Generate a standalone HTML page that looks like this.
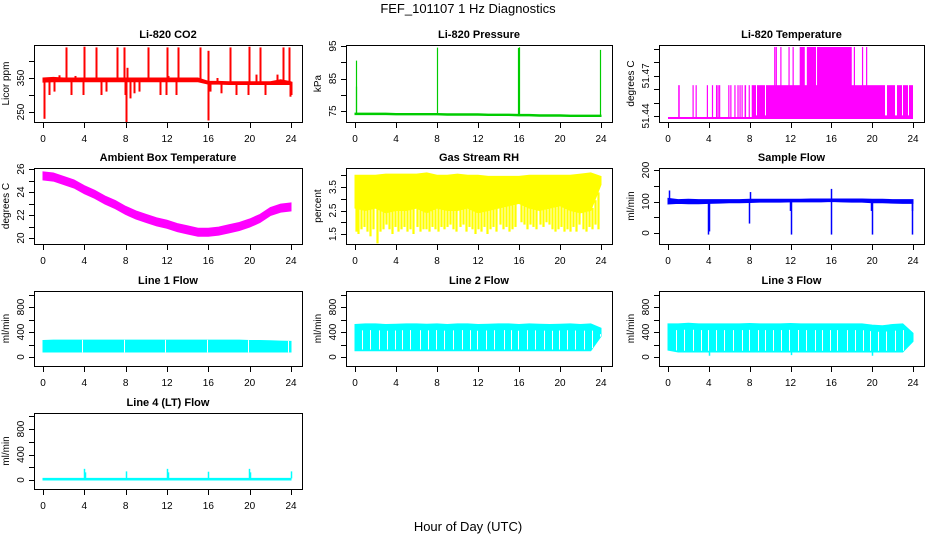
<!DOCTYPE html>
<html><head><meta charset="utf-8"><style>
html,body{margin:0;padding:0;background:#fff}
svg{display:block;font-family:"Liberation Sans",Arial,sans-serif}
</style></head><body>
<svg id="c" width="936" height="540" viewBox="0 0 936 540" xmlns="http://www.w3.org/2000/svg">
<text x="468" y="13" text-anchor="middle" font-size="13">FEF_101107  1 Hz Diagnostics</text>
<text x="468" y="531" text-anchor="middle" font-size="13">Hour of Day (UTC)</text>
</svg>
<script>
// ---------- data ----------
const hours=[0,1,2,3,4,5,6,7,8,9,10,11,12,13,14,15,16,17,18,19,20,21,22,23,24];
const xTicks=[0,4,8,12,16,20,24];
// CO2
const co2Low =[338,339,339,339,339,339,339,339,339,339,339,339,339,339,339,339,332,332,331,331,331,331,331,331,331];
const co2High=[350,352,350,350,350,350,350,350,350,350,350,350,350,350,350,350,340,340,339,339,339,339,339,345,339];
const co2UpT=[2.2,4.0,5.1,7.2,7.8,10.2,12.0,13.1,15.2,16.0,18.1,19.9,21.0,23.2,23.8,1.5,3.1,8.1,12.1,16.8,20.6,22.6];
const co2UpV=[440,442,440,440,440,440,440,440,440,430,440,442,440,440,440,358,356,380,356,350,360,360];
const co2DnT=[0.05,0.1,0.6,1.1,2.7,3.9,5.6,6.1,7.9,8.0,8.4,8.8,9.3,11.3,11.9,12.9,16.0,16.2,17.2,18.7,19.8,21.5,23.9,24.0];
const co2DnV=[230,270,300,310,300,300,300,310,300,220,290,305,310,300,300,300,225,310,305,300,300,300,295,300];
const co2Ticks=[250,300,350,400], co2Labels=[250,350];
// Pressure
const presBase=[74.2,74.2,74.2,74.2,74.1,74.1,74.1,74.1,74.1,74.0,74.0,74.0,74.0,73.9,73.9,73.9,73.8,73.8,73.7,73.7,73.7,73.6,73.6,73.6,73.6];
const presSpikeT=[0.05,0.1,8.0,15.95,16.0,23.9];
const presSpikeV=[90.5,82.5,94.5,94.4,94.6,93.8];
const presTicks=[75,80,85,90,95], presLabels=[75,85,95];
// Li-820 temperature
const ltLow=51.4385;
const ltSegStart=[1.0,2.4,2.7,3.8,4.3,4.7,4.85,5.0,5.9,6.1,6.5,6.8,7.0,7.2,7.5,7.9,8.2,10.4,10.55,11.0,11.8,12.2,12.9,13.6,14.6,18.2,19.0,19.4];
const ltSegEnd  =[1.15,2.45,2.75,3.85,4.35,4.75,4.9,5.05,6.0,6.15,6.55,6.85,7.05,7.3,7.65,8.0,24.0,10.48,10.6,11.05,11.9,12.3,13.4,14.5,18.0,18.25,19.05,19.45];
const ltSegLevel=[51.463,51.463,51.463,51.463,51.463,51.463,51.463,51.463,51.463,51.463,51.463,51.463,51.463,51.463,51.463,51.463,51.463,51.4915,51.4915,51.4915,51.4915,51.4915,51.4915,51.4915,51.4915,51.4915,51.4915,51.4915];
const ltGapT=[8.6,9.5,21.3,21.4,22.2,22.3,22.9,23.5];
const ltTicks=[51.44,51.45,51.46,51.47,51.48,51.49], ltLabels=[51.44,51.47];
// Ambient
const ambMid=[25.4,25.3,25.0,24.7,24.2,23.8,23.3,22.9,22.4,22.0,21.7,21.4,21.2,20.9,20.7,20.5,20.5,20.6,20.8,21.0,21.3,21.7,22.3,22.6,22.7];
const ambHalf=0.35;
const ambTicks=[20,21,22,23,24,25,26], ambLabels=[20,22,24,26];
// RH
const rhHigh=[4.0,4.0,4.0,4.05,4.05,4.05,4.05,4.1,4.0,4.0,4.05,4.0,4.0,3.95,3.95,3.95,3.95,4.0,4.0,4.0,4.0,4.0,4.05,4.1,3.95];
const rhMid =[2.6,2.5,2.6,2.4,2.5,2.5,2.6,2.4,2.6,2.5,2.5,2.6,2.4,2.5,2.6,2.7,2.8,2.6,2.5,2.6,2.7,2.5,2.4,2.5,3.6];
const rhDipT=[0.1,0.3,0.6,0.9,1.2,1.5,1.8,2.1,2.4,2.7,3.0,3.3,3.6,3.9,4.2,4.5,4.8,5.1,5.4,5.7,6.0,6.3,6.6,6.9,7.2,7.5,7.8,8.1,8.4,8.7,9.0,9.3,9.6,9.9,10.2,10.5,10.8,11.1,11.4,11.7,12.0,12.3,12.6,12.9,13.2,13.5,13.8,14.1,14.4,14.7,15.0,15.3,15.6,16.2,16.5,16.8,17.1,17.4,17.7,18.0,18.3,18.6,18.9,19.2,19.5,19.8,20.1,20.4,20.7,21.0,21.3,21.6,21.9,22.2,22.5,22.8,23.1,23.4,23.7];
const rhDipV=[1.6,1.5,1.7,1.8,1.6,1.4,1.7,1.1,1.6,1.7,1.9,1.7,1.5,1.8,1.6,1.7,1.8,1.6,1.7,1.5,1.8,1.6,1.7,1.7,1.6,1.8,1.7,1.6,1.8,1.7,1.8,1.9,1.7,1.6,1.8,1.9,1.6,1.8,1.7,1.5,1.7,1.6,1.8,1.5,1.7,1.8,1.6,1.9,1.7,1.8,1.6,1.7,1.8,2.0,1.9,1.7,1.9,1.8,1.7,1.9,1.8,2.0,1.9,1.7,1.6,1.7,1.8,1.6,1.7,1.6,1.8,1.6,1.9,1.7,1.6,1.8,1.7,1.9,1.7];
const rhTicks=[1.5,2,2.5,3,3.5,4], rhLabels=[1.5,2.5,3.5];
// Sample flow
const sfLow =[92,94,93,93,94,95,96,96,97,98,98,98,99,99,99,99,100,99,98,98,96,96,95,94,94];
const sfHigh=[110,106,107,106,106,106,106,106,107,107,107,107,107,107,108,108,108,108,108,108,107,107,106,106,106];
const sfSpikeT=[0.05,3.95,4.0,7.95,8.0,11.95,12.0,15.95,16.0,19.9,19.95,23.9,23.95];
const sfSpikeV=[135,-5,5,30,130,70,-5,140,-5,70,-5,70,-5];
const sfTicks=[0,50,100,150,200], sfLabels=[0,100,200];
// Line flows
const flowTicks=[0,200,400,600,800,1000], flowLabels=[0,400,800];
const l1Low =[80,80,80,80,80,80,80,80,80,80,80,80,80,80,80,80,80,80,80,80,80,80,80,80,80];
const l1High=[265,270,270,270,270,270,270,270,270,270,270,270,270,270,270,270,270,270,270,270,265,265,260,255,250];
const l1GapT=[3.8,7.8,11.8,15.9,19.8,23.7];
const l2Low =[100,100,100,100,100,100,100,100,100,100,100,100,100,100,100,100,100,100,100,100,100,100,100,100,330];
const l2High=[520,530,530,520,525,530,530,525,530,520,530,530,520,525,530,530,520,530,525,520,525,530,520,530,460];
const l2GapT=[0.7,1.5,2.3,3.1,3.9,4.6,5.4,6.3,7.1,7.9,8.7,9.6,10.4,11.2,11.9,12.8,13.6,14.5,15.2,15.9,16.8,17.6,18.4,19.2,19.9,20.7,21.5,22.3,23.1,23.9];
const l3Low =[110,80,80,80,80,80,80,80,80,80,80,80,80,80,80,80,80,80,80,80,80,80,80,80,250];
const l3High=[530,530,540,530,530,530,530,530,535,530,530,530,535,530,530,530,530,530,530,530,510,500,520,530,380];
const l3GapT=[0.8,1.6,2.4,3.2,3.9,4.7,5.5,6.4,7.2,7.9,8.8,9.5,10.3,11.1,11.9,12.7,13.5,14.4,15.1,15.9,16.6,17.5,18.3,19.1,19.8,20.6,21.4,22.2,23.0];
const l3DipT=[4.0,12.0,20.0], l3DipV=[20,30,20];
const l4Low=0, l4High=25;
const l4SpikeT=[4.0,4.1,8.0,12.0,12.1,16.0,19.95,20.05,24.0];
const l4SpikeV=[175,120,135,175,120,130,175,120,135];

// ---------- layout ----------
const svg=document.getElementById('c');
const NS='http://www.w3.org/2000/svg';
const cols=[{l:34,r:302},{l:346,r:612},{l:659,r:924}];
const rows=[{t:45,b:122},{t:168,b:244},{t:291,b:366},{t:413,b:489}];
function mk(tag,attrs,parent){const e=document.createElementNS(NS,tag);for(const k in attrs)e.setAttribute(k,attrs[k]);(parent||svg).appendChild(e);return e;}
function panel(name,title,ylab,ci,ri,yref,ticks,labels){
  const c=cols[ci],r=rows[ri];
  const x0=c.l+9,x1=c.r-11;
  const sx=v=>x0+(v-0)*(x1-x0)/24;
  const sy=v=>yref[1]+(v-yref[0])*(yref[3]-yref[1])/(yref[2]-yref[0]);
  const g=mk('g',{});
  
  
  const t=mk('text',{x:(c.l+c.r)/2,y:r.t-7,'text-anchor':'middle','font-size':11,'font-weight':'bold'},g);
  t.textContent=title;
  
  
  const data=mk('g',{},g);
  
  
  const ax=mk('g',{stroke:'#000','stroke-width':1,fill:'none'},g);
  
  
  mk('rect',{x:c.l+0.5,y:r.t+0.5,width:c.r-c.l,height:r.b-r.t},ax);
  mk('line',{x1:sx(0),x2:sx(24),y1:r.b+0.5,y2:r.b+0.5},ax);
  xTicks.forEach(v=>{
    mk('line',{x1:Math.round(sx(v))+0.5,x2:Math.round(sx(v))+0.5,y1:r.b,y2:r.b+6},ax);
    const tl=mk('text',{x:sx(v),y:r.b+20,'text-anchor':'middle','font-size':10,fill:'#000',stroke:'none'},g);
    tl.textContent=v;
    
    
  });
  mk('line',{x1:c.l+0.5,x2:c.l+0.5,y1:sy(ticks[0]),y2:sy(ticks[ticks.length-1])},ax);
  ticks.forEach(v=>{const y=Math.round(sy(v))+0.5;mk('line',{x1:c.l-5,x2:c.l,y1:y,y2:y},ax);});
  labels.forEach(v=>{
    const y=sy(v),x=c.l-10;
    const tl=mk('text',{x:x,y:y,'text-anchor':'middle','font-size':10,transform:`rotate(-90 ${x} ${y})`},g);
    tl.textContent=v;
    
    
  });
  const yx=c.l-25,yy=(r.t+r.b)/2;
  const yl=mk('text',{x:yx,y:yy,'text-anchor':'middle','font-size':10,transform:`rotate(-90 ${yx} ${yy})`},g);
  yl.textContent=ylab;
  
  
  return {sx,sy,g:data,r};
}
function band(p,ts,lo,hi,color,name){
  let pts=ts.map((t,i)=>p.sx(t)+','+p.sy(hi[i]));
  for(let i=ts.length-1;i>=0;i--)pts.push(p.sx(ts[i])+','+p.sy(lo[i]));
  const e=mk('polygon',{points:pts.join(' '),fill:color,stroke:color,'stroke-width':1},p.g);
  
  
}
function vline(p,t,a,b,color,w,name){
  const x=Math.round(p.sx(t))+0.5;
  const e=mk('line',{x1:x,x2:x,y1:p.sy(a),y2:p.sy(b),stroke:color,'stroke-width':w||1.5},p.g);
  
  
}
function interp(arr,t){const i=Math.min(23,Math.floor(t));const f=t-i;return arr[i]*(1-f)+arr[i+1]*f;}

let p=panel('co2','Li-820 CO2','Licor ppm',0,0,[250,112,350,78],co2Ticks,co2Labels);
band(p,hours,co2Low,co2High,'#f00','co2-band');
co2UpT.forEach((t,i)=>vline(p,t,interp(co2Low,t),co2UpV[i],'#f00',2,'co2-spike'));
co2DnT.forEach((t,i)=>vline(p,t,interp(co2High,t),co2DnV[i],'#f00',2,'co2-dip'));

p=panel('pressure','Li-820 Pressure','kPa',1,0,[75,111,95,46],presTicks,presLabels);
band(p,hours,presBase.map(v=>v-0.3),presBase.map(v=>v+0.15),'#0c0','pressure-line');
presSpikeT.forEach((t,i)=>vline(p,t,interp(presBase,t),presSpikeV[i],'#0c0',1.2,'pressure-spike'));

p=panel('li-temp','Li-820 Temperature','degrees C',2,0,[51.44,116,51.49,49],ltTicks,ltLabels);
{const e=mk('line',{x1:p.sx(0),x2:p.sx(24),y1:p.sy(ltLow),y2:p.sy(ltLow),stroke:'#f0f','stroke-width':2},p.g);
}
ltSegStart.forEach((s,i)=>{
  const x=p.sx(s),w=Math.max(1.2,p.sx(ltSegEnd[i])-x),y=p.sy(ltSegLevel[i]);
  const e=mk('rect',{x:x,y:y,width:w,height:p.sy(ltLow)-y,fill:'#f0f'},p.g);
  
  
});
ltGapT.forEach(t=>vline(p,t,51.4635,51.4405,'#fff',1,'li-temp-gap'));

p=panel('ambient','Ambient Box Temperature','degrees C',0,1,[20,238,26,169],ambTicks,ambLabels);
band(p,hours,ambMid.map(v=>v-ambHalf),ambMid.map(v=>v+ambHalf),'#f0f','ambient-band');

p=panel('rh','Gas Stream RH','percent',1,1,[1.5,234,3.5,187],rhTicks,rhLabels);
band(p,hours,rhMid,rhHigh,'#ff0','rh-band');
rhDipT.forEach((t,i)=>vline(p,t,interp(rhMid,t),rhDipV[i],'#ff0',2.2,'rh-dip'));

p=panel('sample-flow','Sample Flow','ml/min',2,1,[0,233,200,170],sfTicks,sfLabels);
band(p,hours,sfLow,sfHigh,'#00f','sample-flow-band');
sfSpikeT.forEach((t,i)=>vline(p,t,interp(sfLow,t),sfSpikeV[i],'#00f',1.5,'sample-flow-spike'));

p=panel('line1-flow','Line 1 Flow','ml/min',0,2,[0,357,800,307],flowTicks,flowLabels);
band(p,hours,l1Low,l1High,'#0ff','line1-band');
l1GapT.forEach(t=>vline(p,t,interp(l1Low,t)-5,interp(l1High,t)+5,'#fff',1,'line1-gap'));

p=panel('line2-flow','Line 2 Flow','ml/min',1,2,[0,357,800,307],flowTicks,flowLabels);
band(p,hours,l2Low,l2High,'#0ff','line2-band');
l2GapT.forEach(t=>vline(p,t,interp(l2Low,t)+20,interp(l2High,t)-100,'#fff',1,'line2-gap'));

p=panel('line3-flow','Line 3 Flow','ml/min',2,2,[0,357,800,307],flowTicks,flowLabels);
band(p,hours,l3Low,l3High,'#0ff','line3-band');
l3GapT.forEach(t=>vline(p,t,interp(l3Low,t)+20,interp(l3High,t)-100,'#fff',1,'line3-gap'));
l3DipT.forEach((t,i)=>vline(p,t,100,l3DipV[i],'#0ff',1.5,'line3-dip'));

p=panel('line4-flow','Line 4 (LT) Flow','ml/min',0,3,[0,480,800,429],flowTicks,flowLabels);
band(p,[0,24],[l4Low,l4Low],[l4High,l4High],'#0ff','line4-band');
l4SpikeT.forEach((t,i)=>vline(p,t,l4High,l4SpikeV[i],'#0ff',1.5,'line4-spike'));
</script>
</body></html>
